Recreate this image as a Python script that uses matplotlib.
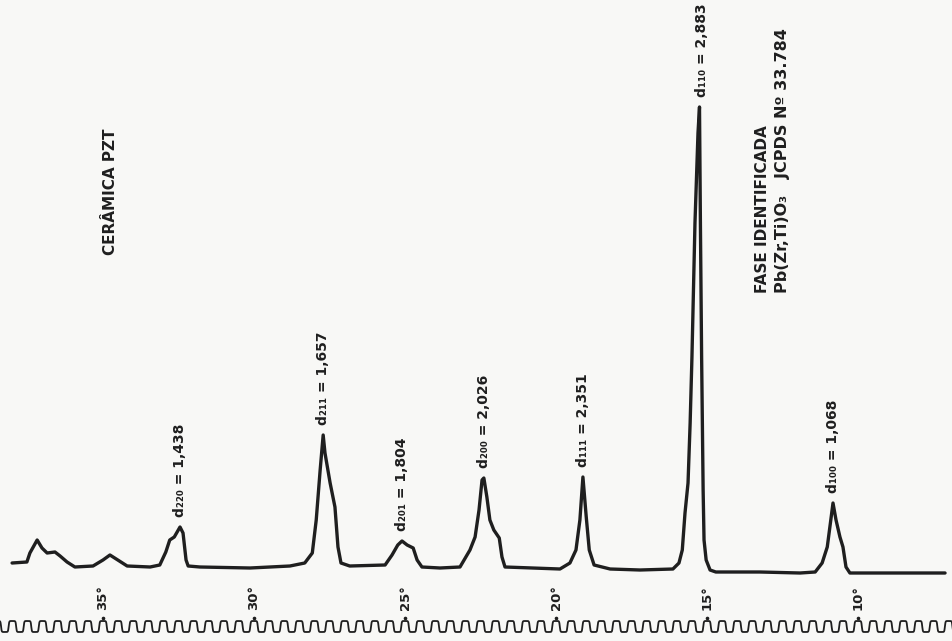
import numpy as np
import matplotlib.pyplot as plt

# trace (2-theta in degrees, pen height above baseline)
two_theta = [38.01, 37.52, 37.42, 37.18, 37.02, 36.85, 36.59, 36.42, 36.19, 35.93,
             35.33, 35.00, 34.77, 34.51, 34.20, 33.44, 33.12, 32.92, 32.79, 32.64,
             32.45, 32.35, 32.25, 32.18, 31.79, 30.13, 28.81, 28.32, 28.07, 27.94,
             27.81, 27.71, 27.65, 27.48, 27.32, 27.22, 27.12, 26.83, 25.66, 25.43,
             25.24, 25.10, 24.93, 24.73, 24.60, 24.44, 23.84, 23.18, 22.85, 22.68,
             22.55, 22.45, 22.39, 22.29, 22.19, 22.06, 21.88, 21.79, 21.69, 19.87,
             19.54, 19.34, 19.21, 19.11, 19.00, 18.90, 18.74, 18.21, 17.22, 16.13,
             15.93, 15.82, 15.73, 15.63, 15.56, 15.50, 15.40, 15.30, 15.25, 15.22,
             15.18, 15.13, 15.10, 15.03, 14.90, 14.71, 13.25, 11.92, 11.42, 11.19,
             11.02, 10.89, 10.83, 10.73, 10.60, 10.50, 10.40, 10.27, 8.61, 7.12]
intensity = [10, 11, 20, 33, 25, 20, 21, 17, 11, 6,
             7, 13, 18, 13, 7, 6, 8, 21, 33, 36,
             46, 40, 13, 7, 6, 5, 7, 10, 20, 53,
             103, 138, 120, 90, 66, 26, 10, 7, 8, 18,
             28, 32, 28, 25, 13, 6, 5, 6, 23, 36,
             63, 93, 95, 76, 53, 43, 35, 16, 6, 4,
             10, 23, 53, 96, 56, 23, 8, 4, 3, 4,
             10, 23, 60, 90, 150, 216, 350, 440, 466, 350,
             216, 83, 33, 13, 3, 1, 1, 0, 1, 10,
             26, 56, 70, 53, 36, 26, 6, 0, 0, 0]

peak_theta = [32.45, 27.71, 25.10, 22.39, 19.11, 15.18, 10.83]
peak_labels = ["d₂₂₀ = 1,438", "d₂₁₁ = 1,657", "d₂₀₁ = 1,804", "d₂₀₀ = 2,026",
               "d₁₁₁ = 2,351", "d₁₁₀ = 2,883", "d₁₀₀ = 1,068"]

tick_degrees = [35, 30, 25, 20, 15, 10]
marker_step = 0.5  # recorder time marks every half degree

ink = "#1f1f1f"
paper = "#f8f8f6"

fig = plt.figure(figsize=(9.52, 6.41), dpi=100, facecolor=paper)
ax = fig.add_axes([0, 0, 1, 1])
ax.set_facecolor(paper)
ax.set_xlim(38.41, 6.89)
ax.set_ylim(-68, 573)
ax.axis("off")

tt = np.array(two_theta)
ii = np.array(intensity)
ax.plot(tt, ii, color=ink, lw=2.4, solid_joinstyle="round", solid_capstyle="round")

font = dict(family="DejaVu Sans", weight="bold", color=ink)

for th, lab in zip(peak_theta, peak_labels):
    top = ii[np.abs(tt - th) < 0.3].max()
    ax.text(th, top + 10, lab, rotation=90, ha="center", va="bottom", fontsize=10, **font)

for d in tick_degrees:
    ax.text(d, -37, f"{d}°", rotation=90, ha="center", va="bottom", fontsize=9.5, **font)
    ax.plot(d, -45, marker="o", ms=1.6, color=ink)

# chart-recorder square-wave strip along the bottom
wt = np.arange(38.6, 6.7, -0.004)
wave = np.tanh(4 * np.cos(2 * np.pi * wt / marker_step))
ax.plot(wt, -53.5 + 5.5 * wave, color=ink, lw=1.3)

ax.text(34.74, 318, "CERÂMICA PZT", rotation=90, ha="center", va="bottom", fontsize=11, **font)
ax.text(13.15, 280, "FASE IDENTIFICADA", rotation=90, ha="center", va="bottom", fontsize=11, **font)
ax.text(12.50, 280, "Pb(Zr,Ti)O₃   JCPDS Nº 33.784", rotation=90, ha="center", va="bottom",
        fontsize=11.5, **font)

fig.savefig("out.png", dpi=100, facecolor=paper)
